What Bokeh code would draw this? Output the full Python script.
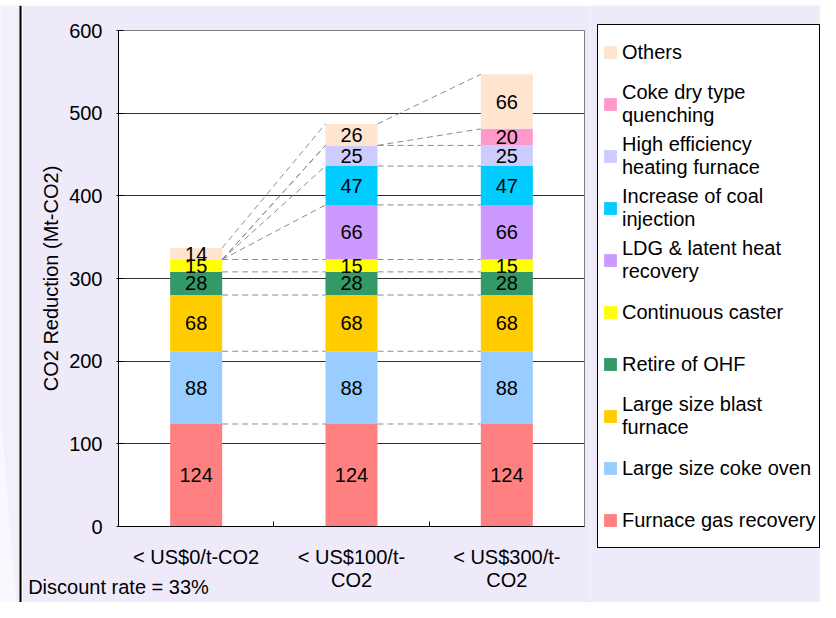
import numpy as np
from bokeh.plotting import figure
from bokeh.models import (ColumnDataSource, Range1d, FixedTicker, Legend,
                          LegendItem, LinearAxis, BoxAnnotation,
                          PolyAnnotation)
from bokeh.layouts import row, column
from bokeh.core.properties import value
from bokeh.embed import file_html
from bokeh.resources import INLINE

# ---------------- data ----------------
categories = ["< US$0/t-CO2", "< US$100/t-CO2", "< US$300/t-CO2"]
category_tick_labels = ["< US$0/t-CO2", "< US$100/t-\nCO2", "< US$300/t-\nCO2"]

series_names = ["Furnace gas recovery", "Large size coke oven",
                "Large size blast furnace", "Retire of OHF", "Continuous caster",
                "LDG & latent heat recovery", "Increase of coal injection",
                "High efficiency heating furnace", "Coke dry type quenching",
                "Others"]
legend_labels = ["Furnace gas recovery", "Large size coke oven",
                 "Large size blast\nfurnace", "Retire of OHF",
                 "Continuous caster", "LDG & latent heat\nrecovery",
                 "Increase of coal\ninjection", "High efficiency\nheating furnace",
                 "Coke dry type\nquenching", "Others"]

furnace_gas_recovery = [124, 124, 124]
large_coke_oven = [88, 88, 88]
large_blast_furnace = [68, 68, 68]
retire_ohf = [28, 28, 28]
continuous_caster = [15, 15, 15]
ldg_latent_heat = [0, 66, 66]
coal_injection = [0, 47, 47]
heating_furnace = [0, 25, 25]
coke_dry_quenching = [0, 0, 20]
others = [14, 26, 66]

series_values = [furnace_gas_recovery, large_coke_oven, large_blast_furnace,
                 retire_ohf, continuous_caster, ldg_latent_heat, coal_injection,
                 heating_furnace, coke_dry_quenching, others]
series_colors = ["#FF8080", "#99CCFF", "#FFCC00", "#339966", "#FFFF00",
                 "#CC99FF", "#00CCFF", "#CCCCFF", "#FF99CC", "#FFE4CF"]

y_ticks = [0, 100, 200, 300, 400, 500, 600]
y_title = "CO2 Reduction (Mt-CO2)"
note_text = "Discount rate = 33%"

# ---------------- styling ----------------
FONT = "Liberation Sans"
FS = "20px"
BG = "#EEEAFA"
BAR_W = 0.335
TOTAL_W, TOTAL_H = 820, 602
BAND_H = 5
STRIP_W = 22
MAIN_W = 568
LEG_W = TOTAL_W - STRIP_W - MAIN_W
BODY_H = TOTAL_H - BAND_H


def no_align(f):
    if "frame_align" in f.properties():
        f.frame_align = False
    return f


def bare(width, height, xr, yr, fill):
    f = figure(width=width, height=height, output_backend="svg",
               toolbar_location=None, x_range=xr, y_range=yr,
               x_axis_location=None, y_axis_location=None,
               min_border_left=0, min_border_right=0, min_border_top=0,
               min_border_bottom=0)
    f.grid.visible = False
    f.outline_line_color = None
    f.background_fill_color = fill
    f.border_fill_color = fill
    return no_align(f)


# top black band
p_band = bare(TOTAL_W, BAND_H, Range1d(0, 1), Range1d(0, 1), "black")

# left page strip
p_strip = bare(STRIP_W, BODY_H, Range1d(0, STRIP_W), Range1d(TOTAL_H, BAND_H),
               "#F3F0FC")
p_strip.add_layout(PolyAnnotation(xs=[0, 15.7, 0], ys=[410, TOTAL_H, TOTAL_H],
                                  fill_color="#F9F8FE", fill_alpha=1,
                                  line_color=None))
p_strip.add_layout(BoxAnnotation(left=19, right=21, fill_color="black",
                                 fill_alpha=1, line_color=None))

# ---------------- main chart ----------------
n = len(categories)
xs = [i + 0.5 for i in range(n)]
keys = ["s%d" % k for k in range(len(series_values))]
data = {"x": xs}
for k, vals in zip(keys, series_values):
    data[k] = vals
src = ColumnDataSource(data)

p = figure(width=MAIN_W, height=BODY_H, output_backend="svg",
           toolbar_location=None,
           x_range=Range1d(0, n), y_range=Range1d(y_ticks[0], y_ticks[-1]),
           min_border_left=96, min_border_right=6, min_border_top=25,
           min_border_bottom=76)
no_align(p)
p.background_fill_color = "white"
p.border_fill_color = BG
p.outline_line_color = "#808080"
p.outline_line_width = 1

bars = p.vbar_stack(keys, x="x", width=BAR_W, color=series_colors,
                    line_color=None, source=src)

# series (connector) lines
vals = np.array(series_values)
cum = np.cumsum(vals, axis=0)
bottoms = cum - vals
x0s, y0s, x1s, y1s = [], [], [], []
for k in range(len(keys)):
    for j in range(n - 1):
        x0s.append(xs[j] + BAR_W / 2)
        y0s.append(float(cum[k][j]))
        x1s.append(xs[j + 1] - BAR_W / 2)
        y1s.append(float(cum[k][j + 1]))
p.segment(x0=x0s, y0=y0s, x1=x1s, y1=y1s, line_color="#8C8C8C",
          line_dash="6 4", line_width=1)

# value labels
lx, ly, lt = [], [], []
for k in range(len(keys)):
    for j in range(n):
        v = int(vals[k][j])
        if v > 0:
            lx.append(xs[j])
            ly.append(float(bottoms[k][j] + v / 2))
            lt.append(str(v))
p.text(x=lx, y=ly, text=lt, text_align="center", text_baseline="middle",
       text_font=value(FONT), text_font_size=value(FS), text_color="black")

# x axis (categories)
xax = p.below[0]
xax.ticker = FixedTicker(ticks=xs, minor_ticks=[i for i in range(1, n)])
xax.major_label_overrides = {x: lab for x, lab in zip(xs, category_tick_labels)}
xax.major_tick_in = 0
xax.major_tick_out = 0
xax.minor_tick_in = 5
xax.minor_tick_out = 0
xax.minor_tick_line_color = "black"
xax.axis_line_color = "black"
xax.major_label_standoff = 19
xax.major_label_text_font = FONT
xax.major_label_text_font_size = FS
xax.major_label_text_line_height = 1.05
xax.major_label_text_color = "black"

# note line under the chart (single label at the left end of the x range)
note_axis = LinearAxis(ticker=FixedTicker(ticks=[0.0], minor_ticks=[]),
                       major_label_overrides={0.0: note_text},
                       axis_line_color=None, major_tick_line_color=None,
                       minor_tick_line_color=None, major_label_standoff=-24,
                       major_label_text_font=FONT, major_label_text_font_size=FS,
                       major_label_text_color="black")
p.add_layout(note_axis, "below")

# y axis
yax = p.left[0]
yax.ticker = FixedTicker(ticks=y_ticks, minor_ticks=[])
yax.major_tick_in = 5
yax.major_tick_out = 2
yax.major_tick_line_color = "black"
yax.axis_line_color = "black"
yax.major_label_standoff = 14
yax.major_label_text_font = FONT
yax.major_label_text_font_size = FS
yax.major_label_text_color = "black"
yax.axis_label = y_title
yax.axis_label_text_font = FONT
yax.axis_label_text_font_size = FS
yax.axis_label_text_font_style = "normal"
yax.axis_label_text_color = "black"
yax.axis_label_standoff = 4

p.xgrid.visible = False
p.ygrid.ticker = FixedTicker(ticks=y_ticks[1:-1], minor_ticks=[])
p.ygrid.grid_line_color = "#303030"

# ---------------- legend panel ----------------
p_leg = bare(LEG_W, BODY_H, Range1d(0, LEG_W), Range1d(0, BODY_H), BG)
swatches = [p_leg.vbar(x=[-1000], top=[1], width=1, fill_color=c,
                       line_color=None) for c in series_colors]
items = [LegendItem(label=legend_labels[k], renderers=[swatches[k]])
         for k in range(len(series_names))][::-1]
legend = Legend(items=items, location=(7, 54), orientation="vertical",
                border_line_color="black", border_line_width=1,
                border_line_alpha=1, background_fill_color="white",
                background_fill_alpha=1, glyph_width=16, glyph_height=16,
                label_standoff=4, padding=4, spacing=6, label_height=46,
                label_width=150, margin=0,
                label_text_font=FONT, label_text_font_size=FS,
                label_text_line_height=1.05, label_text_color="black")
p_leg.add_layout(legend)

layout = column(p_band, row(p_strip, p, p_leg, spacing=0), spacing=0)
open("out.html", "w").write(file_html(layout, INLINE))
